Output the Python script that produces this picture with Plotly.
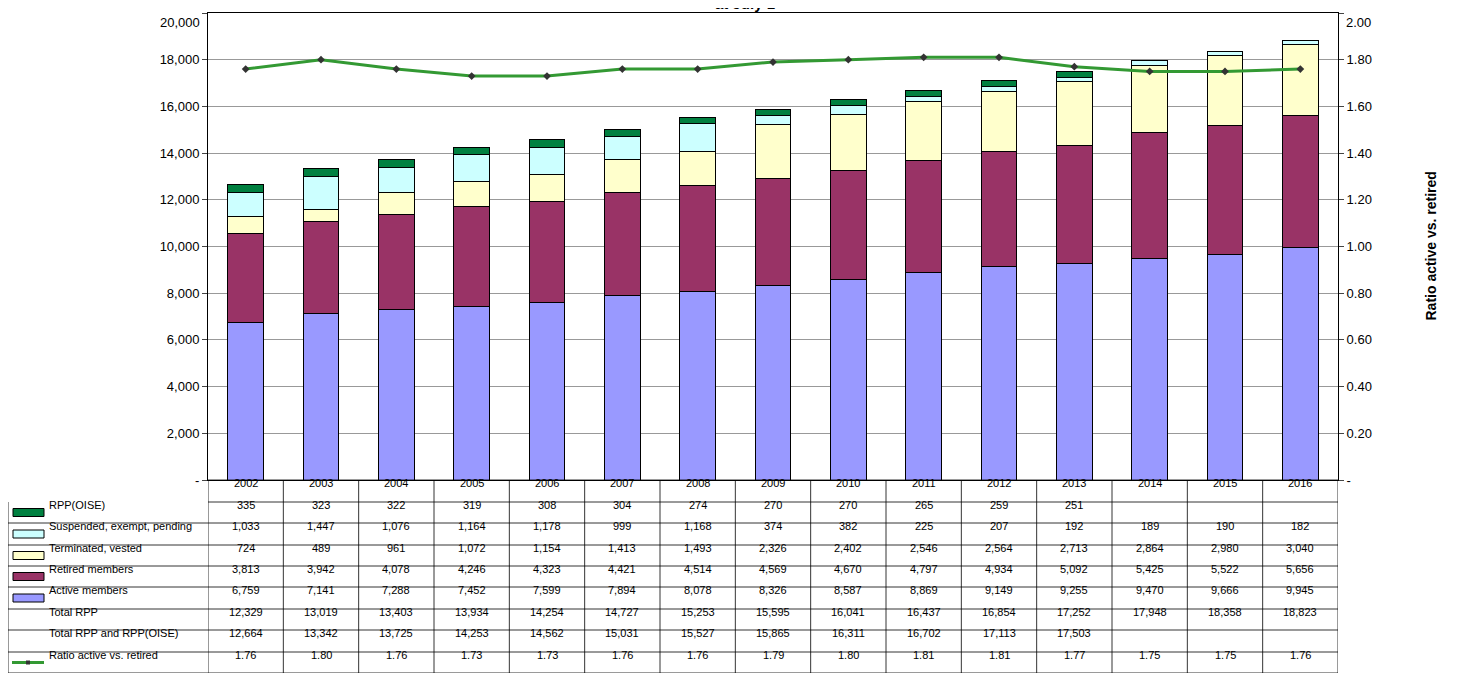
import plotly.graph_objects as go

years = [str(y) for y in range(2002, 2017)]
rpp_oise = [335, 323, 322, 319, 308, 304, 274, 270, 270, 265, 259, 251, None, None, None]
suspended = [1033, 1447, 1076, 1164, 1178, 999, 1168, 374, 382, 225, 207, 192, 189, 190, 182]
terminated = [724, 489, 961, 1072, 1154, 1413, 1493, 2326, 2402, 2546, 2564, 2713, 2864, 2980, 3040]
retired = [3813, 3942, 4078, 4246, 4323, 4421, 4514, 4569, 4670, 4797, 4934, 5092, 5425, 5522, 5656]
active = [6759, 7141, 7288, 7452, 7599, 7894, 8078, 8326, 8587, 8869, 9149, 9255, 9470, 9666, 9945]
total_rpp = [12329, 13019, 13403, 13934, 14254, 14727, 15253, 15595, 16041, 16437, 16854, 17252, 17948, 18358, 18823]
total_all = [12664, 13342, 13725, 14253, 14562, 15031, 15527, 15865, 16311, 16702, 17113, 17503, None, None, None]
ratio = [1.76, 1.80, 1.76, 1.73, 1.73, 1.76, 1.76, 1.79, 1.80, 1.81, 1.81, 1.77, 1.75, 1.75, 1.76]

OFF = 8  # page body margin
W, H = 1459 - OFF, 673 - OFF
L, R, T, B = 208, 1338, 13, 480  # plot area in reference pixels
FONT = "Liberation Sans"

fig = go.Figure()
stack = [
    ("Active members", active, "#9999FF"),
    ("Retired members", retired, "#993366"),
    ("Terminated, vested", terminated, "#FFFFCC"),
    ("Suspended, exempt, pending", suspended, "#CCFFFF"),
    ("RPP(OISE)", rpp_oise, "#008040"),
]
xi = list(range(len(years)))
for name, vals, col in stack:
    fig.add_trace(go.Bar(x=xi, y=vals, name=name, marker_color=col,
                         marker_line=dict(color="black", width=1), width=0.47))
fig.add_trace(go.Scatter(x=xi, y=ratio, yaxis="y2", mode="lines+markers",
                         line=dict(color="#339933", width=3),
                         marker=dict(symbol="diamond", size=6, color="#333333")))

def py(px):
    return (B - px) / (B - T)

def pxx(px):
    return (px - L) / (R - L)

shapes, ann = [], []
line = dict(color="black", width=0.8)
rows_y = [480, 502, 523, 545, 566, 587, 609, 630, 652, 673]
for i, yy in enumerate(rows_y):
    x0 = pxx(L) if i < 2 else pxx(8)
    shapes.append(dict(type="line", xref="paper", yref="paper", x0=x0, x1=1, y0=py(yy), y1=py(yy), line=line))
shapes.append(dict(type="line", xref="paper", yref="paper", x0=pxx(8), x1=pxx(8), y0=py(502), y1=py(673), line=line))
for k in range(16):
    xv = k - 0.5
    shapes.append(dict(type="line", xref="x", yref="paper", x0=xv, x1=xv, y0=py(480), y1=py(673), line=line))

for j, yr in enumerate(years):
    ann.append(dict(x=j, xref="x", y=py(491), yref="paper", text=yr, showarrow=False, font=dict(size=11)))

table_rows = [
    ("RPP(OISE)", rpp_oise, "{:,}", "#008040"),
    ("Suspended, exempt, pending", suspended, "{:,}", "#CCFFFF"),
    ("Terminated, vested", terminated, "{:,}", "#FFFFCC"),
    ("Retired members", retired, "{:,}", "#993366"),
    ("Active members", active, "{:,}", "#9999FF"),
    ("Total RPP", total_rpp, "{:,}", None),
    ("Total RPP and RPP(OISE)", total_all, "{:,}", None),
    ("Ratio active vs. retired", ratio, "{:.2f}", "line"),
]
for i, (label, vals, fmt, key) in enumerate(table_rows):
    yc = (rows_y[i + 1] + rows_y[i + 2]) / 2
    ann.append(dict(x=pxx(47), xref="paper", y=py(yc), yref="paper", text=label, showarrow=False,
                    xanchor="left", font=dict(size=11)))
    if key == "line":
        shapes.append(dict(type="line", xref="paper", yref="paper", x0=pxx(12), x1=pxx(44), y0=py(yc), y1=py(yc),
                           line=dict(color="#339933", width=3)))
        shapes.append(dict(type="rect", xref="paper", yref="paper", x0=pxx(26), x1=pxx(30), y0=py(yc - 2), y1=py(yc + 2),
                           fillcolor="#333333", line=dict(width=0)))
    elif key:
        shapes.append(dict(type="rect", xref="paper", yref="paper", x0=pxx(13), x1=pxx(44), y0=py(yc - 4), y1=py(yc + 4),
                           fillcolor=key, line=dict(color="black", width=1)))
    for j, v in enumerate(vals):
        if v is not None:
            ann.append(dict(x=j, xref="x", y=py(yc), yref="paper", text=fmt.format(v), showarrow=False,
                            font=dict(size=11)))

ann.append(dict(x=0.475, xref="paper", y=py(3), yref="paper", text="<b>at July 1</b>", showarrow=False,
                font=dict(size=15), yanchor="middle"))
ann.append(dict(x=pxx(1440), xref="paper", y=0.5, yref="paper", text="<b>Ratio active vs. retired</b>",
                showarrow=False, textangle=-90, font=dict(size=14)))

lt = list(range(0, 20001, 2000))
rt = [i / 10 for i in range(0, 21, 2)]
# top tick labels drawn as annotations (plotly drops them at the frame edge)
ann.append(dict(x=0, xref="paper", y=1, yref="paper", text=f"{lt[-1]:,}", showarrow=False,
                xanchor="right", xshift=-6, font=dict(size=13)))
ann.append(dict(x=1, xref="paper", y=1, yref="paper", text=f"{rt[-1]:.2f}", showarrow=False,
                xanchor="left", xshift=6, font=dict(size=13)))
fig.update_layout(
    width=W, height=H, barmode="stack", showlegend=False,
    plot_bgcolor="white", paper_bgcolor="white",
    font=dict(family=FONT, size=12, color="black"),
    margin=dict(l=L - OFF, r=1459 - R, t=T - OFF, b=673 - B, pad=0, autoexpand=False),
    xaxis=dict(showticklabels=False, range=[-0.5, 14.5], showline=True, linecolor="black", mirror=True,
               automargin=False),
    yaxis=dict(range=[0, 20000], tickvals=lt, ticktext=["-"] + [f"{v:,}" for v in lt[1:]], automargin=False,
               showgrid=True, gridcolor="#999999", showline=True, linecolor="black", ticks="outside", tickfont=dict(size=13)),
    yaxis2=dict(overlaying="y", side="right", range=[0, 2], tickvals=rt, automargin=False,
                ticktext=["-"] + [f"{v:.2f}" for v in rt[1:]], showgrid=False, showline=True,
                linecolor="black", ticks="outside", tickfont=dict(size=13)),
    shapes=shapes, annotations=ann,
)
fig.write_html("out.html")
